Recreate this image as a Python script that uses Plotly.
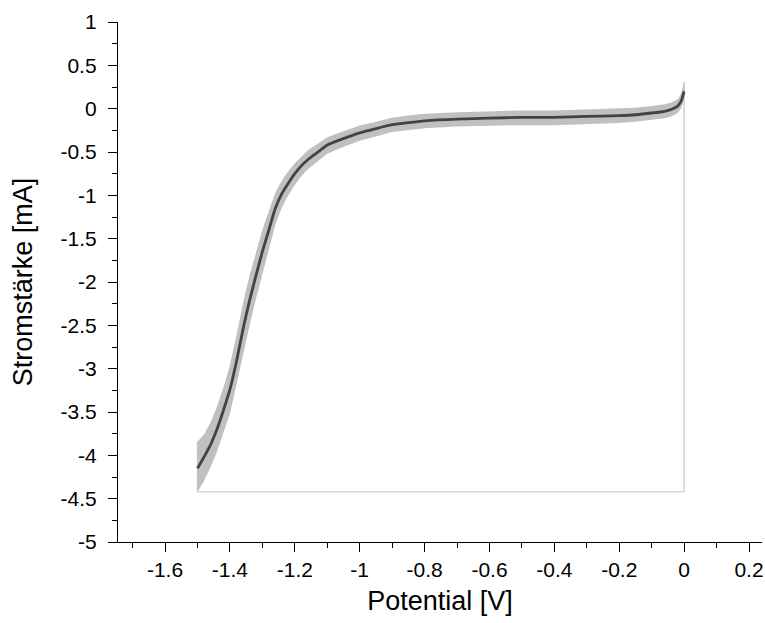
import plotly.graph_objects as go

# Potential [V]
potential = [-1.50, -1.48, -1.46, -1.44, -1.42, -1.40, -1.38, -1.36, -1.34, -1.32,
             -1.30, -1.28, -1.26, -1.24, -1.22, -1.20, -1.18, -1.16, -1.14, -1.12,
             -1.10, -1.05, -1.00, -0.95, -0.90, -0.85, -0.80, -0.70, -0.60, -0.50,
             -0.40, -0.30, -0.20, -0.15, -0.10, -0.06, -0.04, -0.02, -0.01, 0.00]
# mean current [mA]
current_mean = [-4.15, -4.02, -3.88, -3.70, -3.48, -3.24, -2.92, -2.55, -2.22, -1.93,
                -1.65, -1.40, -1.15, -0.98, -0.86, -0.75, -0.66, -0.59, -0.53, -0.475,
                -0.42, -0.345, -0.28, -0.23, -0.185, -0.16, -0.14, -0.12, -0.11, -0.10,
                -0.10, -0.09, -0.08, -0.07, -0.05, -0.03, -0.01, 0.03, 0.08, 0.20]
current_upper = [-3.84, -3.76, -3.62, -3.44, -3.22, -2.96, -2.62, -2.25, -1.93, -1.66,
                 -1.40, -1.18, -0.97, -0.83, -0.72, -0.63, -0.55, -0.48, -0.43, -0.38,
                 -0.33, -0.26, -0.195, -0.15, -0.105, -0.08, -0.06, -0.04, -0.03, -0.02,
                 -0.02, -0.01, 0.00, 0.01, 0.03, 0.05, 0.07, 0.11, 0.17, 0.31]
current_lower = [-4.42, -4.30, -4.14, -3.96, -3.74, -3.52, -3.22, -2.85, -2.51, -2.20,
                 -1.90, -1.62, -1.34, -1.14, -1.00, -0.88, -0.78, -0.70, -0.64, -0.58,
                 -0.52, -0.44, -0.37, -0.32, -0.27, -0.245, -0.225, -0.205, -0.195, -0.19,
                 -0.19, -0.18, -0.165, -0.15, -0.13, -0.11, -0.09, -0.05, 0.00, 0.10]
# closing outline of the error band (as drawn in the original)
outline_x = [-1.50, -1.50, 0.00, 0.00]
outline_y = [-3.84, -4.42, -4.42, 0.31]

x_tickvals = [-1.6, -1.4, -1.2, -1.0, -0.8, -0.6, -0.4, -0.2, 0.0, 0.2]
x_ticktext = ["-1.6", "-1.4", "-1.2", "-1", "-0.8", "-0.6", "-0.4", "-0.2", "0", "0.2"]
y_tickvals = [1, 0.5, 0, -0.5, -1, -1.5, -2, -2.5, -3, -3.5, -4, -4.5, -5]
y_ticktext = ["1", "0.5", "0", "-0.5", "-1", "-1.5", "-2", "-2.5", "-3", "-3.5", "-4", "-4.5", "-5"]

band_color = "#c0c0c0"
line_color = "#434343"

fig = go.Figure()
fig.add_trace(go.Scatter(
    x=potential + potential[::-1],
    y=current_upper + current_lower[::-1],
    fill="toself", fillcolor=band_color, line=dict(width=0),
    mode="lines", hoverinfo="skip", showlegend=False))
fig.add_trace(go.Scatter(
    x=outline_x, y=outline_y, mode="lines",
    line=dict(color="#c4c4c4", width=1.2), showlegend=False))
fig.add_trace(go.Scatter(
    x=potential, y=current_mean, mode="lines",
    line=dict(color=line_color, width=2.8, shape="spline", smoothing=0.6),
    showlegend=False))

font_family = "Liberation Sans, Arial, sans-serif"
axis_common = dict(
    showgrid=False, zeroline=False, showline=True, linecolor="black", linewidth=1.3,
    ticks="outside", ticklen=9, tickwidth=1.3, tickcolor="black", automargin=False,
    tickfont=dict(family=font_family, size=21, color="black"),
)
fig.update_layout(
    width=765, height=623,
    margin=dict(l=118, r=3, t=22, b=81),
    plot_bgcolor="white", paper_bgcolor="white",
    font=dict(family=font_family, color="black"),
    xaxis=dict(range=[-1.745, 0.24], tickmode="array", tickvals=x_tickvals, ticktext=x_ticktext,
               minor=dict(tickmode="linear", tick0=0, dtick=0.1, ticks="outside", ticklen=5,
                          tickwidth=1.3, tickcolor="black"),
               ticklabelstandoff=0,
               title=dict(text="Potential [V]", font=dict(family=font_family, size=27), standoff=10),
               **axis_common),
    yaxis=dict(range=[-5, 1], tickmode="array", tickvals=y_tickvals, ticktext=y_ticktext,
               minor=dict(tickmode="linear", tick0=0, dtick=0.25, ticks="outside", ticklen=5,
                          tickwidth=1.3, tickcolor="black"),
               ticklabelstandoff=7,
               title=dict(text="Stromstärke [mA]", font=dict(family=font_family, size=27), standoff=20),
               **axis_common),
)
# remove the browser's default page margin so the figure fills the window exactly
fig.write_html("out.html", config={"displayModeBar": False},
               post_script="document.body.style.margin='0';document.body.style.overflow='hidden';")
